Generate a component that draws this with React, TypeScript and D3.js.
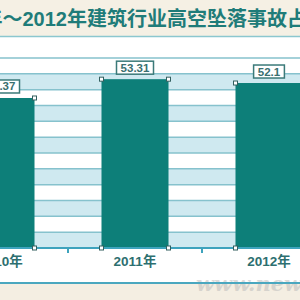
import * as d3 from 'd3';

const categories = ['2010年', '2011年', '2012年'];
const values = [47.37, 53.31, 52.1];
const labels = ['47.37', '53.31', '52.1'];
const title = '2010年～2012年建筑行业高空坠落事故占比';

const W = 300;
const H = 300;
const plotTop = 58;
const plotBottom = 248;

export default function App() {
  const x = d3.scalePoint<string>().domain(categories).range([1, 269]);
  const step = x.step();
  const barW = step * 0.5;
  const y = d3.scaleLinear().domain([0, 60]).range([plotBottom, plotTop]);
  const bands = d3.range(0, 60, 5);
  const gridLines = d3.range(0, 61, 5);
  const dividers = categories.slice(0, -1).map((c) => (x(c) as number) + step / 2);

  const font = '"Liberation Sans", "Noto Sans CJK SC", sans-serif';
  const teal = '#0d7f79';

  return (
    <svg width={W} height={H} style={{ position: 'absolute', left: 0, top: 0, overflow: 'hidden' }}>
      <rect x={0} y={0} width={W} height={H} fill="#ffffff" />
      {/* beige header + footer */}
      <rect x={0} y={0} width={W} height={36} fill="#f5f0e4" />
      <rect x={0} y={283} width={W} height={17} fill="#f4eee2" />
      <text x={-62} y={26} fontFamily={font} fontWeight="bold" fontSize={20} fill="#1f7c79">
        {title}
      </text>
      <line x1={0} x2={W} y1={36.5} y2={36.5} stroke="#8cc7cf" strokeWidth={1.5} />

      {/* striped background */}
      {bands.map((v, i) => (
        <rect key={v} x={0} width={W} y={y(v + 5)} height={y(v) - y(v + 5)}
          fill={i % 2 === 0 ? '#cfe9f0' : '#ffffff'} />
      ))}
      {gridLines.map((v) => (
        <line key={v} x1={0} x2={W} y1={y(v)} y2={y(v)} stroke="#86c2cd" strokeWidth={1.5} />
      ))}

      {/* bars */}
      {categories.map((c, i) => (
        <rect key={c} x={(x(c) as number) - barW / 2} y={y(values[i])} width={barW}
          height={plotBottom - y(values[i])} fill={teal} />
      ))}

      {/* axis */}
      <line x1={0} x2={W} y1={plotBottom} y2={plotBottom} stroke="#3ea3bd" strokeWidth={2} />
      {dividers.map((d) => (
        <line key={d} x1={d} x2={d} y1={plotBottom} y2={plotBottom + 5} stroke="#3ea3bd" strokeWidth={2} />
      ))}

      {/* corner markers */}
      {categories.map((c, i) => {
        const cx = x(c) as number;
        const pts = [
          [cx - barW / 2, y(values[i])],
          [cx + barW / 2, y(values[i])],
          [cx - barW / 2, plotBottom],
          [cx + barW / 2, plotBottom],
        ];
        return pts.map(([px, py], j) => (
          <rect key={c + j} x={px - 2} y={py - 2} width={4} height={4} fill="#ffffff" stroke="#335f5f" strokeWidth={1} />
        ));
      })}

      {/* value labels */}
      {categories.map((c, i) => {
        const cx = x(c) as number;
        const bw = labels[i].length * 6.2 + 6;
        const top = y(values[i]) - 18;
        return (
          <g key={c}>
            <rect x={cx - bw / 2} y={top} width={bw} height={13} fill="#ffffff" stroke="#3b7a79" strokeWidth={1.5} />
            <text x={cx} y={top + 10.5} textAnchor="middle" fontFamily={font} fontWeight="bold" fontSize={11.5} fill="#3a6f70">
              {labels[i]}
            </text>
          </g>
        );
      })}

      {/* category labels */}
      {categories.map((c) => (
        <text key={c} x={x(c) as number} y={266} textAnchor="middle" fontFamily={font} fontWeight="bold" fontSize={13.5} fill="#2d6f70">
          {c}
        </text>
      ))}

      {/* watermark */}
      <text x={196} y={291} fontFamily="'DejaVu Serif', serif" fontStyle="italic" fontWeight="bold" fontSize={21} fill="#b9b9b9" opacity={0.5}>
        www.newssc.org
      </text>
      <line x1={0} x2={W} y1={283} y2={283} stroke="#4aa7bf" strokeWidth={2} />
    </svg>
  );
}
